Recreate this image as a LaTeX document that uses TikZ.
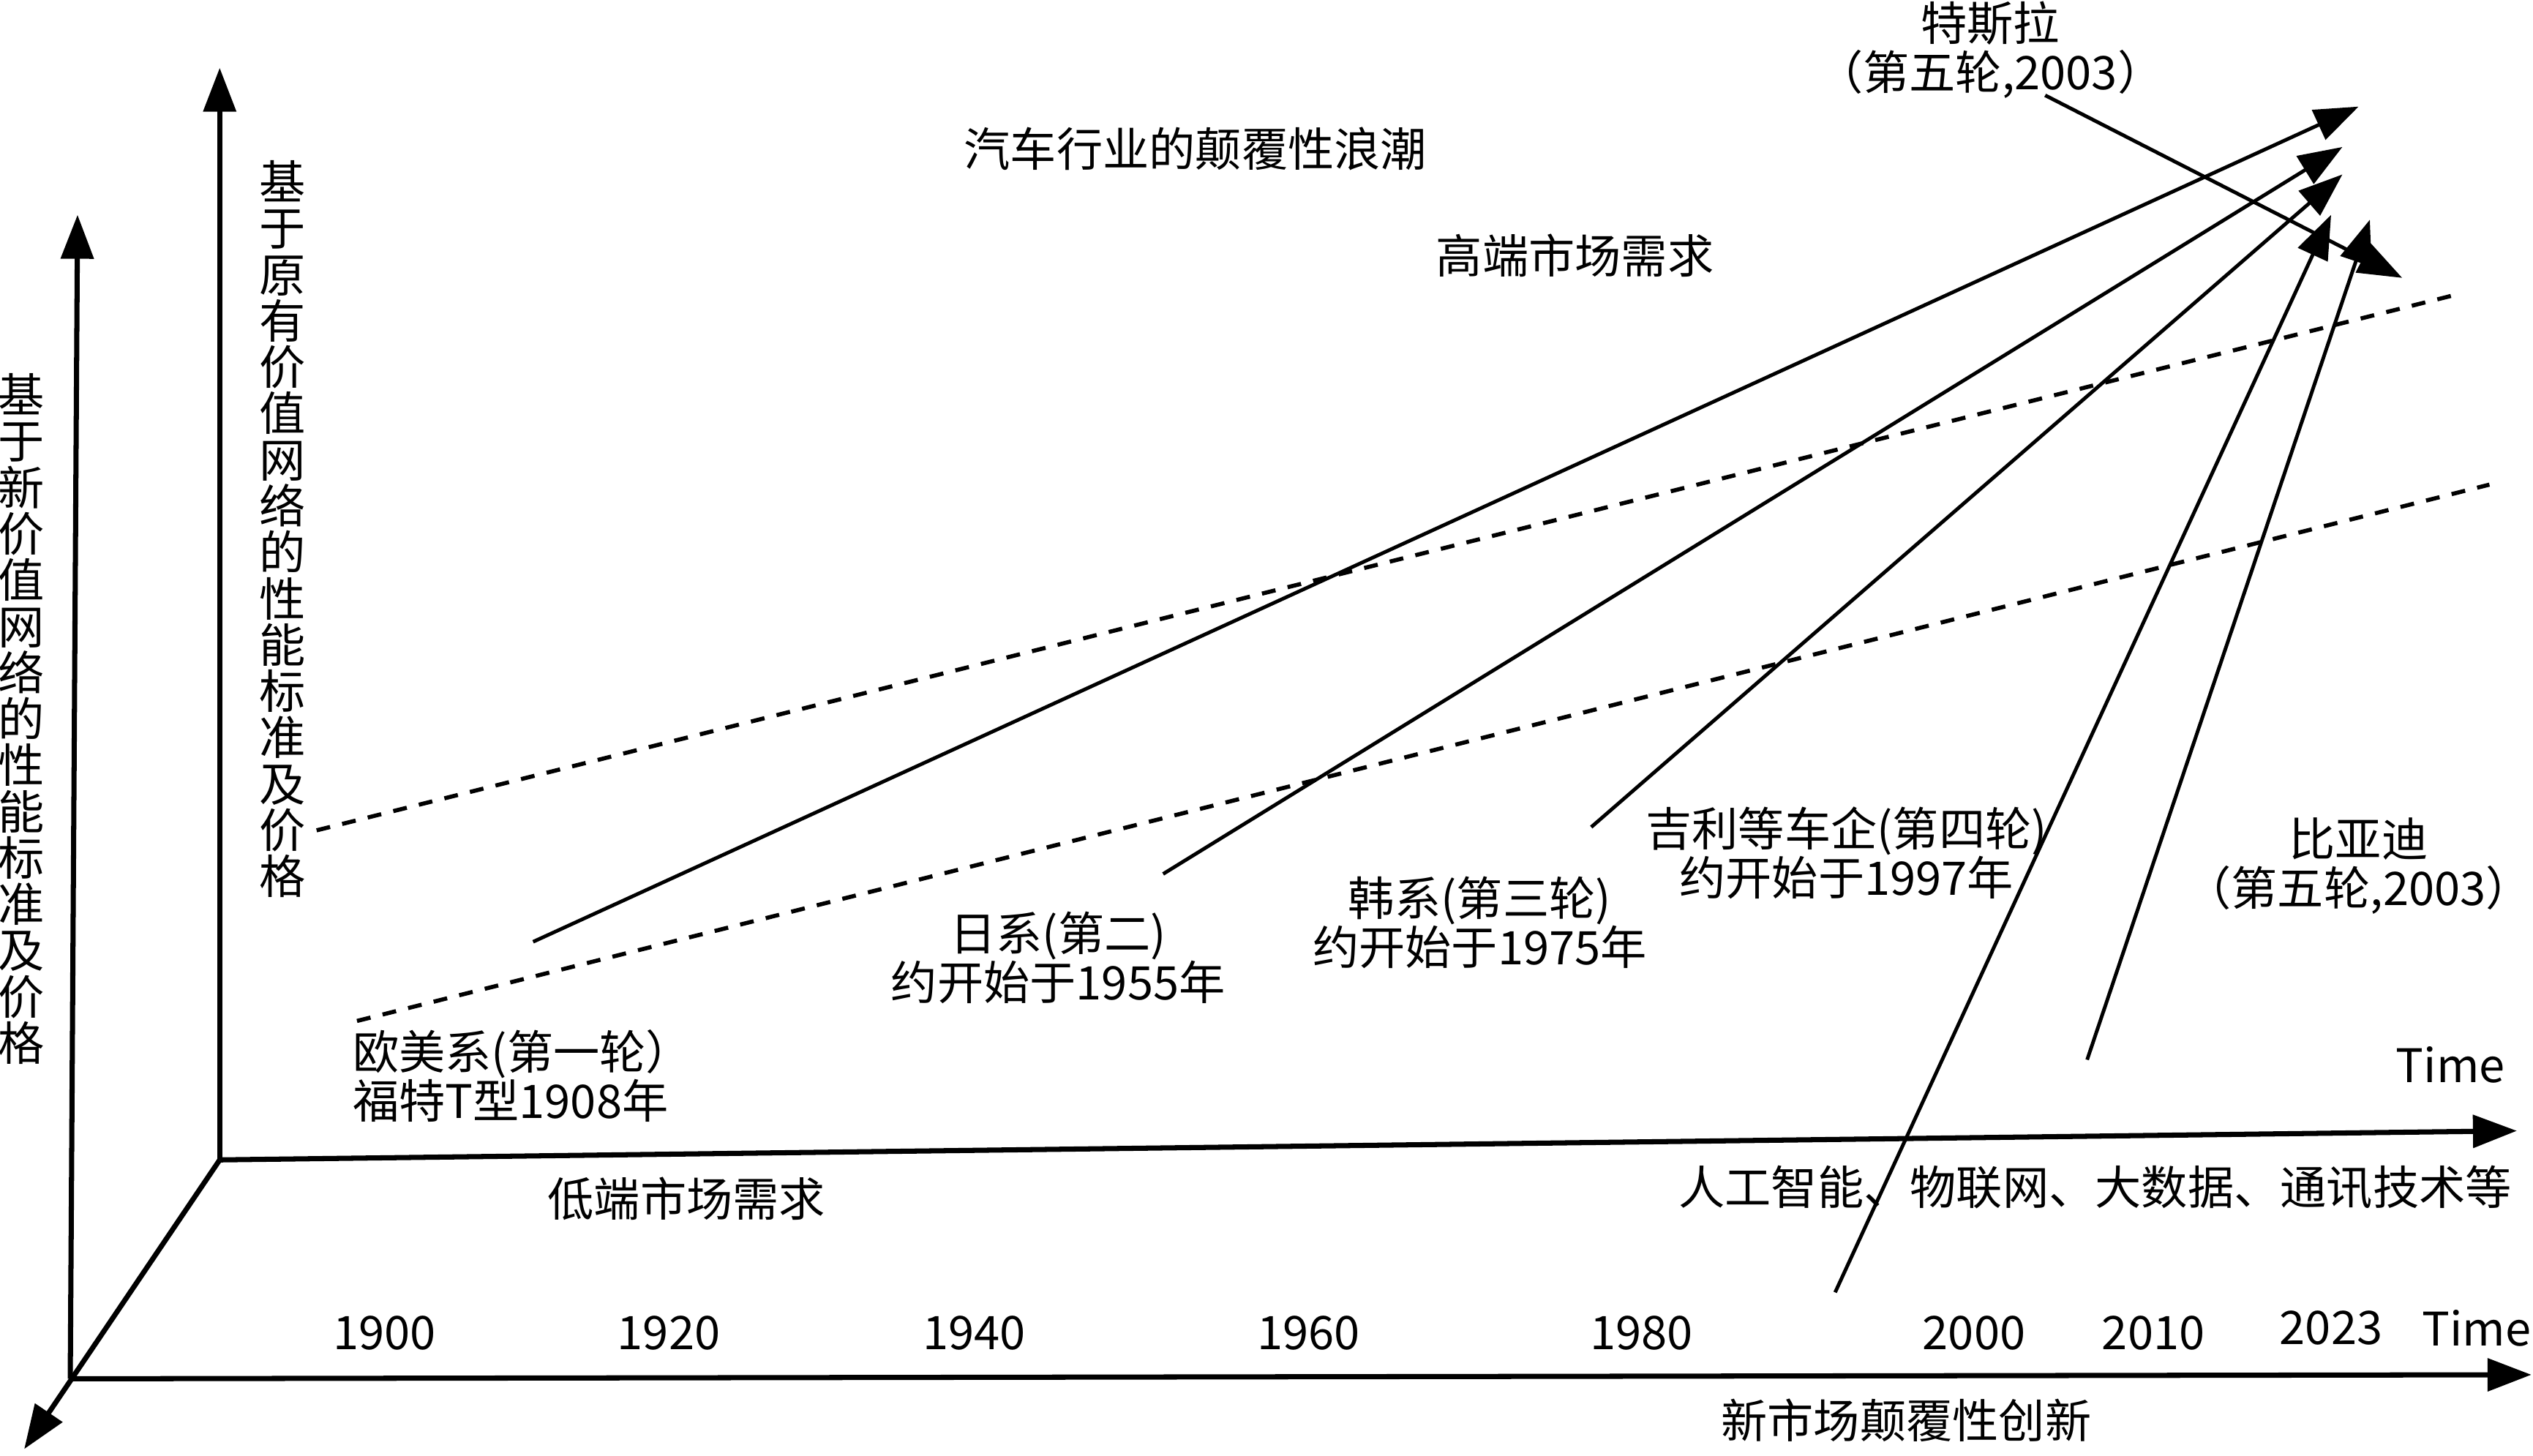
\documentclass[tikz,border=0pt]{standalone}
\usepackage{fontspec}
\setmainfont{Noto Sans CJK SC}
\usetikzlibrary{arrows.meta,positioning}
\tikzset{>={Triangle[length=6mm,width=4.4mm]}}

\begin{document}
\begin{tikzpicture}[%
                    x=0.022079cm,y=-0.022079cm,
                    axis/.style={line width=2pt},
                    wave/.style={line width=1.4pt},
                    demand/.style={line width=1.6pt,dash pattern=on 0.19cm off 0.17cm},
                    lbl/.style={inner sep=0,font=\fontsize{18}{19}\selectfont,align=center},
                    vlbl/.style={inner sep=0,font=\fontsize{18}{18}\selectfont,align=center}
        ]
    \useasboundingbox (0,0) rectangle (1568,901);
    % axes
    \coordinate (o) at (43.5,853.5);
    \coordinate (i) at (136,718);
    \coordinate (otop) at (48,133);
    \coordinate (itop) at (136,42);
    \coordinate (oright) at (1567,851);
    \coordinate (iright) at (1558,700);
    \coordinate (diag) at (15,897);
    \draw[axis,->] (o) -- (otop);
    \draw[axis,->] (i) -- (itop);
    \draw[axis,->] (o) -- (oright);
    \draw[axis,->] (i) -- (iright);
    \draw[axis,->] (i) -- (diag);
    % market demand
    \coordinate (hi1) at (196,514);
    \coordinate (hi2) at (1518,183);
    \coordinate (lo1) at (221,632);
    \coordinate (lo2) at (1541,300);
    \draw[demand] (hi1) -- (hi2);
    \draw[demand] (lo1) -- (lo2);
    % texts
    \node[vlbl] (newnet) at (13,445) {基\\于\\新\\价\\值\\网\\络\\的\\性\\能\\标\\准\\及\\价\\格};
    \node[vlbl] (oldnet) at (175,327.5) {基\\于\\原\\有\\价\\值\\网\\络\\的\\性\\能\\标\\准\\及\\价\\格};
    \node[lbl] (title) at (740,92) {汽车行业的颠覆性浪潮};
    \node[lbl] (high) at (975,158) {高端市场需求};
    \node[lbl] (low) at (425,742) {低端市场需求};
    \node[lbl] (newmkt) at (1180,879) {新市场颠覆性创新};
    \node[lbl] (tech) at (1297,735) {人工智能、物联网、大数据、通讯技术等};
    \node[lbl] (time1) at (1517,659) {Time};
    \node[lbl] (time2) at (1533,822) {Time};
    \node[lbl] (y1900) at (238,825) {1900};
    \node[lbl] (y1920) at (414,825) {1920};
    \node[lbl] (y1940) at (603,825) {1940};
    \node[lbl] (y1960) at (810,825) {1960};
    \node[lbl] (y1980) at (1016,825) {1980};
    \node[lbl] (y2000) at (1222,825) {2000};
    \node[lbl] (y2010) at (1333,825) {2010};
    \node[lbl] (y2023) at (1443,822) {2023};
    % waves
    \node[lbl,anchor=west,align=left] (eu) at (218,666) {欧美系(第一轮）\\福特T型1908年};
    \node[lbl] (jp) at (655,593) {日系(第二)\\约开始于1955年};
    \node[lbl] (kr) at (916,571) {韩系(第三轮)\\约开始于1975年};
    \node[lbl] (geely) at (1143,528) {吉利等车企(第四轮)\\约开始于1997年};
    \node[lbl] (byd) at (1460,536) {比亚迪\\（第五轮,2003）};
    \node[lbl] (tesla) at (1232,31) {特斯拉\\（第五轮,2003）};
    \coordinate (eu-s) at (330,583);
    \coordinate (eu-e) at (1460,66);
    \coordinate (jp-s) at (720,541);
    \coordinate (jp-e) at (1450,91);
    \coordinate (kr-s) at (985,512);
    \coordinate (kr-e) at (1450,108);
    \coordinate (geely-s) at (1136,800);
    \coordinate (geely-e) at (1443,133);
    \coordinate (byd-s) at (1292,656);
    \coordinate (byd-e) at (1467,136);
    \coordinate (tesla-s) at (1266,59);
    \coordinate (tesla-e) at (1487,172);
    \draw[wave,->] (eu-s) -- (eu-e);
    \draw[wave,->] (jp-s) -- (jp-e);
    \draw[wave,->] (kr-s) -- (kr-e);
    \draw[wave,->] (geely-s) -- (geely-e);
    \draw[wave,->] (byd-s) -- (byd-e);
    \draw[wave,->] (tesla-s) -- (tesla-e);
\end{tikzpicture}
\end{document}
